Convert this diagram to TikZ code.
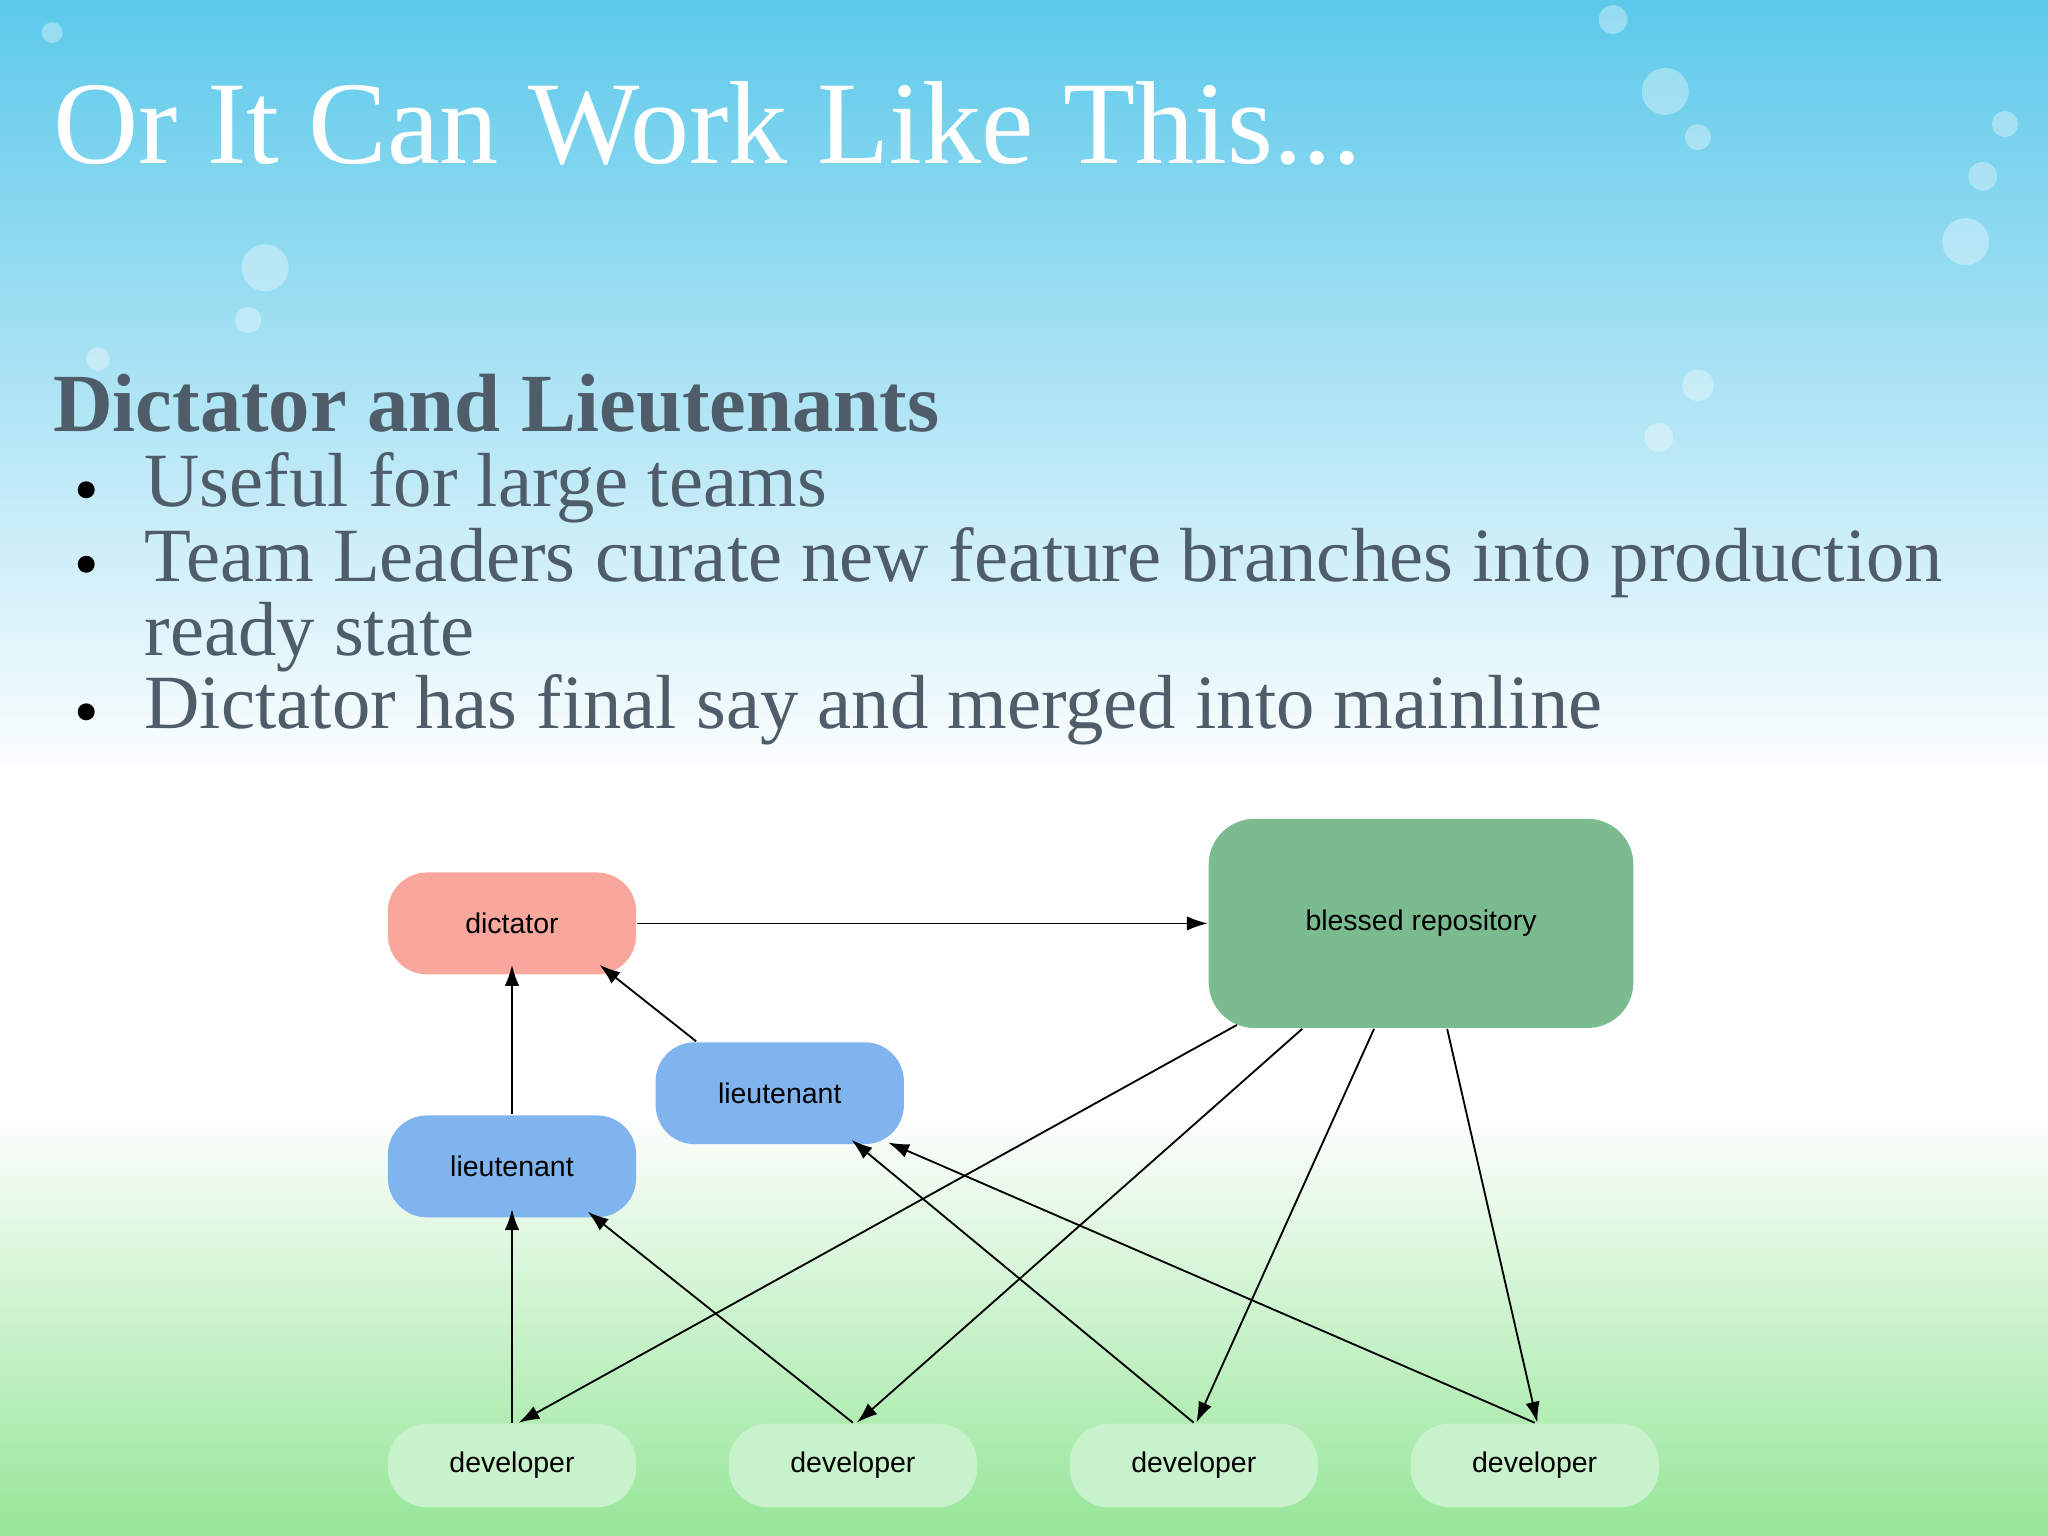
\documentclass[tikz,border=0pt]{standalone}
\usepackage{fontspec}
\setmainfont{Liberation Serif}
\newfontfamily\diagfont{Liberation Sans}
\usetikzlibrary{arrows.meta,positioning,calc}
\definecolor{skytop}{RGB}{92, 201, 234}
\definecolor{grassbot}{RGB}{150, 230, 152}
\definecolor{textgray}{RGB}{79, 93, 106}
\definecolor{dictred}{RGB}{249, 166, 156}
\definecolor{blessgreen}{RGB}{122, 188, 144}
\definecolor{ltblue}{RGB}{128, 180, 238}
\definecolor{devgreen}{RGB}{200, 242, 204}
\tikzset{
  box/.style={rectangle, rounded corners=0.3cm, font=\diagfont\fontsize{6.2}{7}\selectfont, align=center},
  role/.style={box, minimum width=1.9cm, minimum height=0.78cm},
  dev/.style={box, fill=devgreen, minimum width=1.9cm, minimum height=0.64cm},
  flow/.style={-{Latex[length=1.6mm,width=1.1mm]}, black, line width=0.4pt},
  bullet/.style={anchor=base west, inner sep=0, text=textgray, font=\fontsize{16.7}{19}\selectfont},
  dot/.style={circle, fill=black, inner sep=0, minimum size=0.13cm}
}
\begin{document}
\begin{tikzpicture}[x=0.01cm, y=-0.01cm]
  \useasboundingbox (0,0) rectangle (1568,1176);
  % background
  \shade[top color=skytop, bottom color=white] (0,0) rectangle (1568,600);
  \fill[white] (0,599) rectangle (1568,850);
  \shade[top color=white, bottom color=grassbot] (0,849) rectangle (1568,1176);
  \foreach \x/\y/\r in {1275/70/18, 1300/105/10, 1505/185/18, 1518/135/11, 1535/95/10, 203/205/18, 190/245/10, 75/275/9, 1300/295/12, 1270/335/11, 1235/15/11, 40/25/8}
    \fill[white, opacity=0.35] (\x,\y) circle (\r);

  % texts
  \node[anchor=base west, inner sep=0, text=white, font=\fontsize{25.7}{30}\selectfont] (title) at (40,125) {Or It Can Work Like This...};
  \node[bullet, font=\bfseries\fontsize{18}{20}\selectfont] (head) at (40,330) {Dictator and Lieutenants};
  \node[dot] (d1) at (66,375) {};
  \node[dot] (d2) at (66,432) {};
  \node[dot] (d3) at (66,545) {};
  \node[bullet] (b1) at (110,388) {Useful for large teams};
  \node[bullet] (b2) at (110,445) {Team Leaders curate new feature branches into production};
  \node[bullet] (b2b) at (110,502) {ready state};
  \node[bullet] (b3) at (110,558) {Dictator has final say and merged into mainline};

  % Nodes
  \node[role, fill=dictred] (dictator) at (392,707) {dictator};
  \node[box, fill=blessgreen, minimum width=3.25cm, minimum height=1.6cm, rounded corners=0.35cm] (blessed) at (1088,707) {blessed repository};
  \node[role, fill=ltblue] (lieut1) at (597,837) {lieutenant};
  \node[role, fill=ltblue] (lieut2) at (392,893) {lieutenant};
  \node[dev] (dev1) at (392,1122) {developer};
  \node[dev] (dev2) at (653,1122) {developer};
  \node[dev] (dev3) at (914,1122) {developer};
  \node[dev] (dev4) at (1175,1122) {developer};

  % Arrows
  \draw[flow] (dictator.east) -- (blessed.west |- dictator.east);
  \draw[flow] (lieut2.north) -- ($(dictator.south)+(0,-8)$);
  \draw[flow] ($(lieut1.north)+(-64,0)$) -- ($(dictator.south)+(67,-8)$);
  \draw[flow] (dev1.north) -- ($(lieut2.south)+(0,-7)$);
  \draw[flow] (dev2.north) -- ($(lieut2.south)+(58,-5)$);
  \draw[flow] (dev3.north) -- ($(lieut1.south)+(55,-4)$);
  \draw[flow] (dev4.north) -- ($(lieut1.south)+(83,-2)$);
  \draw[flow] ($(blessed.south)+(-141,-3)$) -- ($(dev1.north)+(5,0)$);
  \draw[flow] ($(blessed.south)+(-91,0)$) -- ($(dev2.north)+(3,0)$);
  \draw[flow] ($(blessed.south)+(-36,0)$) -- ($(dev3.north)+(2,0)$);
  \draw[flow] ($(blessed.south)+(20,0)$) -- ($(dev4.north)+(2,0)$);
\end{tikzpicture}
\end{document}
